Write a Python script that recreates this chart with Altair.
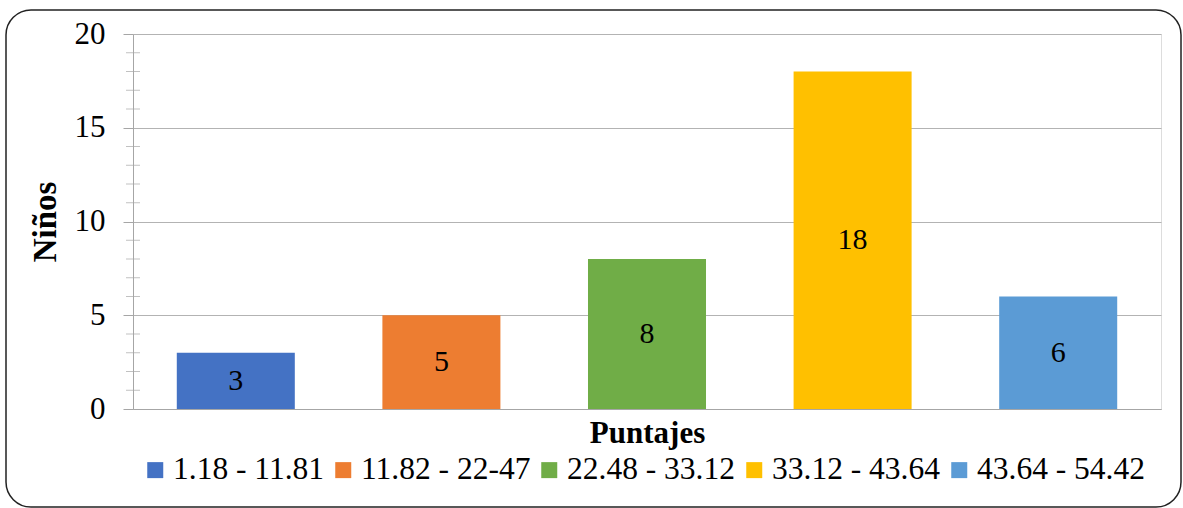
import altair as alt
import pandas as pd

categories = ["1.18 - 11.81", "11.82 - 22-47", "22.48 - 33.12", "33.12 - 43.64", "43.64 - 54.42"]
counts = [3, 5, 8, 18, 6]
colors = ["#4472C4", "#ED7D31", "#70AD47", "#FFC000", "#5B9BD5"]
major_ticks = [0, 5, 10, 15, 20]
minor_ticks = [1, 2, 3, 4, 6, 7, 8, 9, 11, 12, 13, 14, 16, 17, 18, 19]

FONT = "'Liberation Serif', 'Times New Roman', Times, serif"
GRAY = "#a6a6a6"

df = pd.DataFrame({"rango": categories, "n": counts})
ticks_df = pd.DataFrame({"v": minor_ticks})

y_scale = alt.Scale(domain=[0, 20], nice=False)
y_axis = alt.Axis(
    values=major_ticks, grid=True, gridColor="#b3b3b3", gridWidth=1,
    tickSize=10, tickColor=GRAY, domainColor=GRAY, labelFont=FONT,
    labelFontSize=31, labelColor="black", labelPadding=18,
    titleFont=FONT, titleFontSize=33, titleFontWeight="bold",
    titleColor="black", titlePadding=12,
)
x_scale = alt.Scale(paddingInner=0.426, paddingOuter=0.213)
x_axis = alt.Axis(
    labels=False, ticks=False, domainColor=GRAY, grid=False,
    titleFont=FONT, titleFontSize=31, titleFontWeight="bold",
    titleColor="black", titlePadding=9,
)

x_enc = alt.X("rango:N", sort=categories, scale=x_scale, axis=x_axis, title="Puntajes")

bars = alt.Chart(df).mark_bar().encode(
    x=x_enc,
    y=alt.Y("n:Q", scale=y_scale, axis=y_axis, title="Niños"),
    color=alt.Color(
        "rango:N",
        sort=categories,
        scale=alt.Scale(domain=categories, range=colors),
        legend=alt.Legend(
            title=None, orient="none", legendX=6.5, legendY=420,
            direction="horizontal", columns=5, symbolType="square",
            symbolSize=256, symbolStrokeWidth=0, labelFont=FONT,
            labelFontSize=31.5, labelColor="black", labelOffset=2,
            labelLimit=0, columnPadding=3, padding=0,
        ),
    ),
)

labels = alt.Chart(df).transform_calculate(mid="datum.n / 2").mark_text(
    font=FONT, fontSize=30, color="black", baseline="middle"
).encode(
    x=x_enc,
    y=alt.Y("mid:Q", scale=y_scale, axis=y_axis, title="Niños"),
    text=alt.Text("n:Q"),
)

minor = alt.Chart(ticks_df).mark_tick(
    orient="horizontal", size=14, thickness=1, color=GRAY
).encode(
    y=alt.Y("v:Q", scale=y_scale, axis=y_axis, title="Niños"),
    x=alt.value(0),
)

border = alt.Chart(alt.Data(values=[{}])).mark_rect(
    fill="transparent", stroke="#222222", strokeWidth=1.5, cornerRadius=25
).encode(
    x=alt.value(-127), x2=alt.value(1048),
    y=alt.value(-24), y2=alt.value(473),
)

chart = alt.layer(border, bars, labels, minor).properties(
    width=1028, height=375,
    autosize=alt.AutoSizeParams(type="none"),
    padding={"left": 133, "top": 34, "right": 22, "bottom": 99},
).configure_view(stroke=None).configure(background="white", font=FONT)

chart.save("out.html", embed_options={"renderer": "svg", "actions": False})
